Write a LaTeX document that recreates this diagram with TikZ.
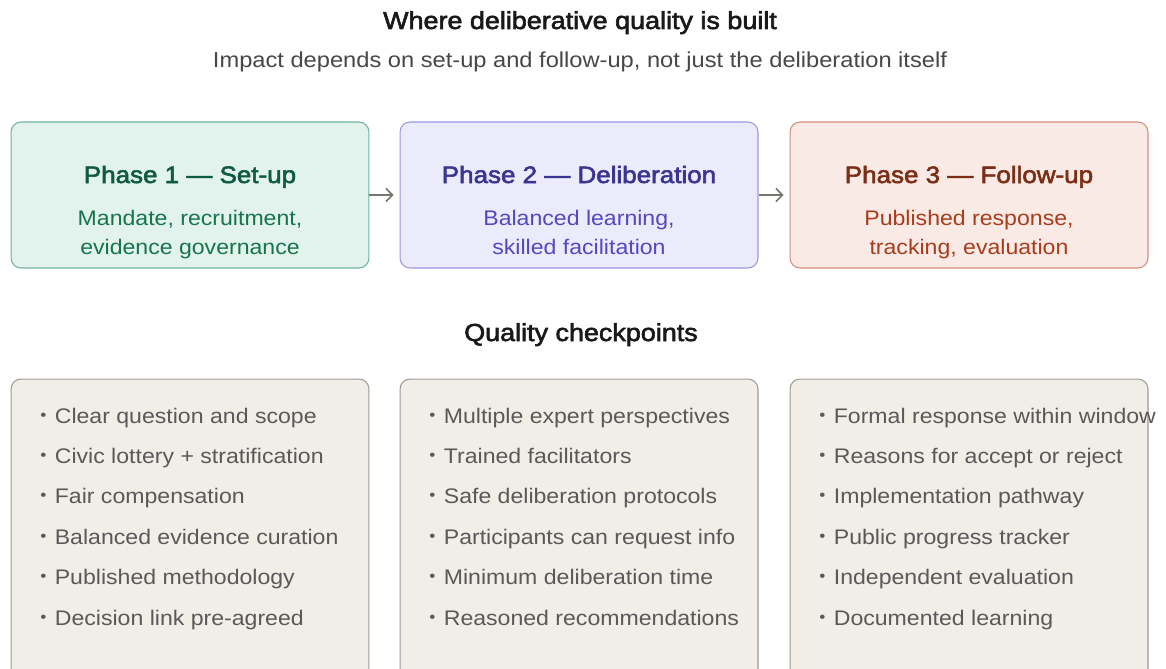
\documentclass[tikz,border=0pt]{standalone}
\usepackage{fontspec}
\setmainfont[FakeStretch=1.095]{Liberation Sans}
\newfontfamily\demigras[FakeStretch=1.095, FakeBold=2.4]{Liberation Sans}
\usetikzlibrary{arrows.meta}
\definecolor{vertfond}{HTML}{E1F3EC}
\definecolor{vertbord}{HTML}{6FB59A}
\definecolor{verttitre}{HTML}{0F5A40}
\definecolor{verttexte}{HTML}{17744F}
\definecolor{violetfond}{HTML}{ECEBFC}
\definecolor{violetbord}{HTML}{9D97E0}
\definecolor{violettitre}{HTML}{3A3590}
\definecolor{violettexte}{HTML}{5248C0}
\definecolor{rougefond}{HTML}{F9EAE5}
\definecolor{rougebord}{HTML}{D48F7A}
\definecolor{rougetitre}{HTML}{7A2E16}
\definecolor{rougetexte}{HTML}{A83C1C}
\definecolor{beigefond}{HTML}{F1EEE8}
\definecolor{beigebord}{HTML}{9E9A94}
\definecolor{grisfleche}{HTML}{77756F}
\newcommand{\pastille}{\raisebox{1.3pt}{\fontsize{9}{9}\selectfont•}\hspace{4.8pt}}

\begin{document}
\begin{tikzpicture}[x=0.02cm,y=-0.02cm]
		\tikzstyle{phase}=[minimum width=7.16cm, minimum height=2.92cm, draw, rounded corners=0.2cm, line width=0.6pt]
		\tikzstyle{controle}=[minimum width=7.16cm, minimum height=6cm, draw=beigebord, fill=beigefond, rounded corners=0.2cm, line width=0.6pt]
		\tikzstyle{titre}=[anchor=base, font=\fontsize{14}{16.8}\demigras]
		\tikzstyle{titre_phase}=[anchor=base, font=\fontsize{13.5}{16.2}\demigras]
		\tikzstyle{texte}=[anchor=base, font=\fontsize{12}{16.5}\selectfont, align=center]
		\tikzstyle{puce}=[anchor=base west, font=\fontsize{12}{14.4}\selectfont, text=black!65, inner sep=0pt, execute at begin node=\pastille]
		\tikzstyle{fleche}=[draw=grisfleche, line width=0.85pt, shorten >=0.12cm, -{Straight Barb[length=0.13cm, width=0.26cm]}]
		\useasboundingbox (0,0) rectangle (1166,669);
		\clip (0,0) rectangle (1166,669);
		\fill[white] (0,0) rectangle (1166,669);
		% titres
		\node[titre, text=black!90] (titreA) at (580,29) {Where deliberative quality is built};
		\node[anchor=base, font=\fontsize{12.3}{14.8}\selectfont, text=black!72] (sousTitre) at (580,68) {Impact depends on set-up and follow-up, not just the deliberation itself};
		% les trois phases
		\node[phase, draw=vertbord, fill=vertfond] (p1) at (190,195) {};
		\node[phase, draw=violetbord, fill=violetfond] (p2) at (579,195) {};
		\node[phase, draw=rougebord, fill=rougefond] (p3) at (969,195) {};
		\node[titre_phase, text=verttitre] (t1) at (190,183) {Phase 1 — Set-up};
		\node[texte, text=verttexte] (s1) at (190,254) {Mandate, recruitment,\\evidence governance};
		\node[titre_phase, text=violettitre] (t2) at (579,183) {Phase 2 — Deliberation};
		\node[texte, text=violettexte] (s2) at (579,254) {Balanced learning,\\skilled facilitation};
		\node[titre_phase, text=rougetitre] (t3) at (969,183) {Phase 3 — Follow-up};
		\node[texte, text=rougetexte] (s3) at (969,254) {Published response,\\tracking, evaluation};
		\draw[fleche] (p1.east) -- (p2.west);
		\draw[fleche] (p2.east) -- (p3.west);
		% points de controle
		\node[titre, text=black!90] (titreB) at (581,341) {Quality checkpoints};
		\node[controle] (c1) at (190,529) {};
		\node[controle] (c2) at (579,529) {};
		\node[controle] (c3) at (969,529) {};
		\node[puce] (a1) at (40,423) {Clear question and scope};
		\node[puce] (a2) at (40,463) {Civic lottery + stratification};
		\node[puce] (a3) at (40,503) {Fair compensation};
		\node[puce] (a4) at (40,544) {Balanced evidence curation};
		\node[puce] (a5) at (40,584) {Published methodology};
		\node[puce] (a6) at (40,625) {Decision link pre-agreed};
		\node[puce] (b1) at (429,423) {Multiple expert perspectives};
		\node[puce] (b2) at (429,463) {Trained facilitators};
		\node[puce] (b3) at (429,503) {Safe deliberation protocols};
		\node[puce] (b4) at (429,544) {Participants can request info};
		\node[puce] (b5) at (429,584) {Minimum deliberation time};
		\node[puce] (b6) at (429,625) {Reasoned recommendations};
		\node[puce] (d1) at (819,423) {Formal response within window};
		\node[puce] (d2) at (819,463) {Reasons for accept or reject};
		\node[puce] (d3) at (819,503) {Implementation pathway};
		\node[puce] (d4) at (819,544) {Public progress tracker};
		\node[puce] (d5) at (819,584) {Independent evaluation};
		\node[puce] (d6) at (819,625) {Documented learning};
	\end{tikzpicture}
\end{document}
